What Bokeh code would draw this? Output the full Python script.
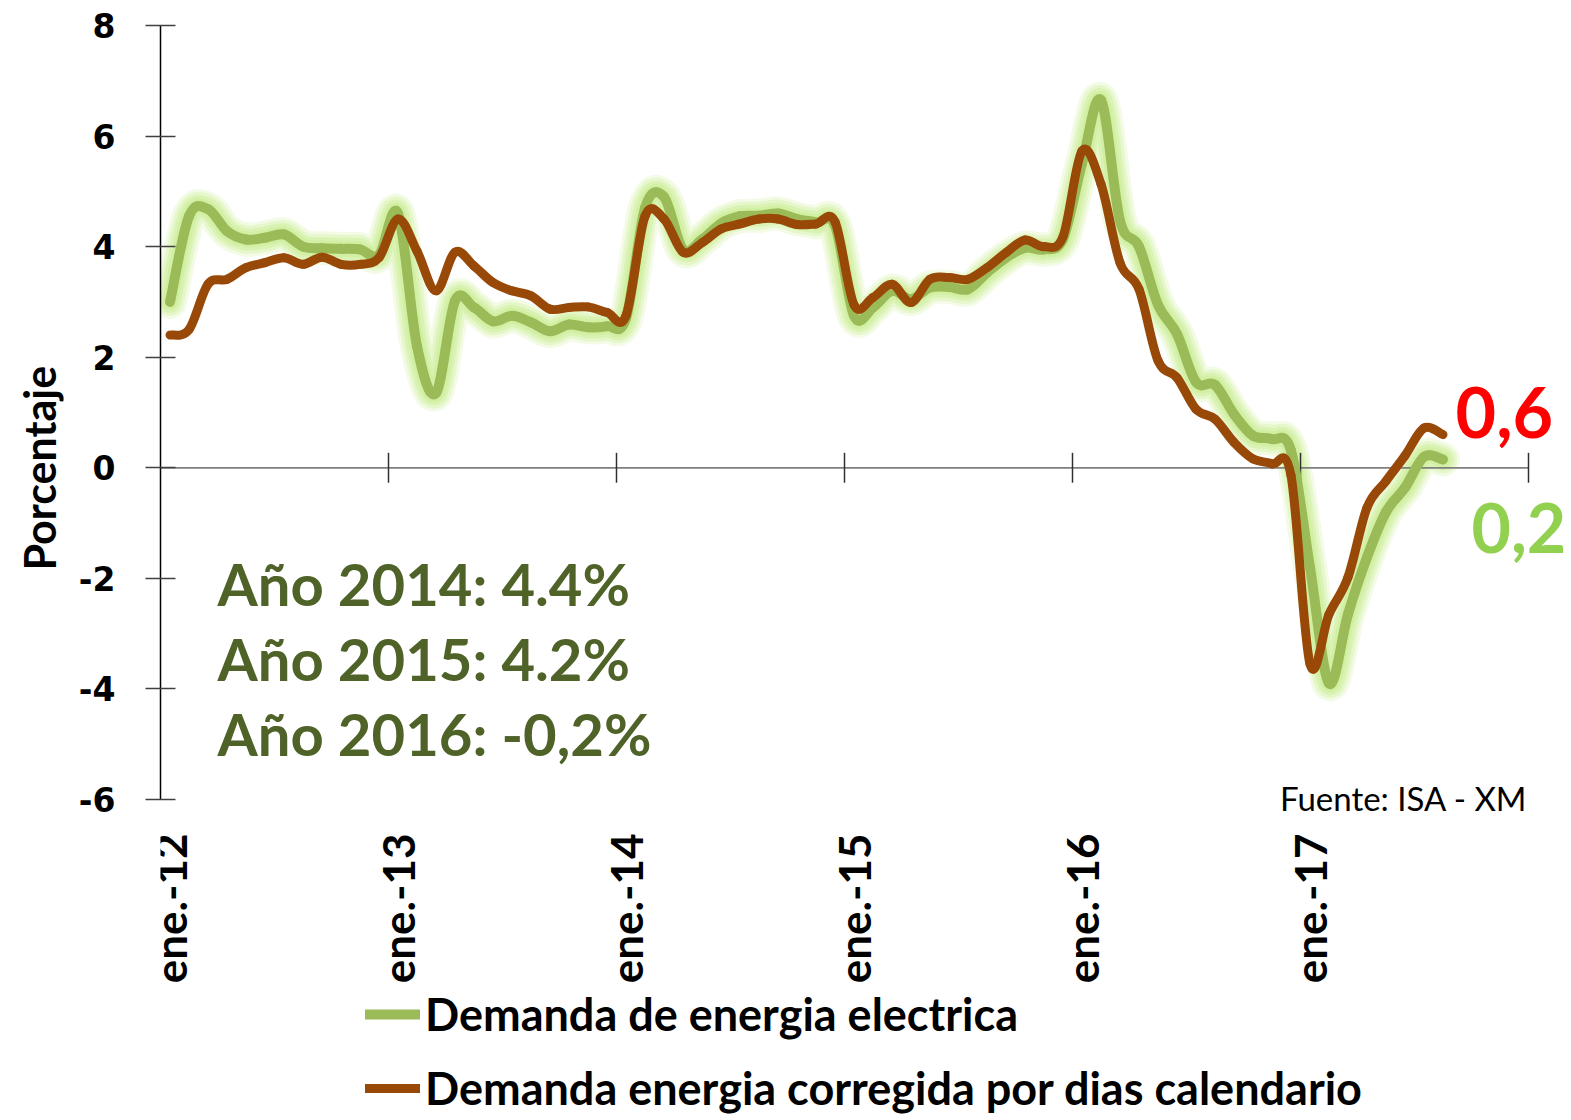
import math
from bokeh.plotting import figure
from bokeh.models import Range1d, FixedTicker, Label, Legend, LegendItem, Title
from bokeh.core.properties import value
from bokeh.embed import file_html
from bokeh.resources import INLINE

# Month index since ene.-2012 (0 = ene.-12 ... 67 = ago.-17)
meses = list(range(68))

demanda = [3.00, 4.55, 4.68, 4.28, 4.13, 4.16, 4.22, 4.00, 3.97, 3.96, 3.95, 3.85,
           4.60, 2.20, 1.35, 3.02, 2.90, 2.65, 2.75, 2.63, 2.47, 2.59, 2.54, 2.56,
           2.70, 4.70, 4.90, 3.95, 4.13, 4.42, 4.55, 4.56, 4.60, 4.50, 4.44, 4.38,
           2.75, 2.90, 3.20, 3.05, 3.26, 3.27, 3.23, 3.53, 3.80, 3.98, 3.95, 4.14,
           5.50, 6.65, 4.47, 4.00, 2.95, 2.42, 1.55, 1.50, 0.97, 0.58, 0.52, 0.31,
           -1.80, -3.90, -2.65, -1.62, -0.80, -0.36, 0.20, 0.15]

corregida = [2.40, 2.50, 3.32, 3.41, 3.62, 3.71, 3.80, 3.68, 3.81, 3.68, 3.68, 3.80,
             4.50, 3.92, 3.20, 3.90, 3.65, 3.35, 3.20, 3.11, 2.87, 2.90, 2.91, 2.81,
             2.75, 4.55, 4.50, 3.90, 4.07, 4.32, 4.41, 4.50, 4.50, 4.40, 4.41, 4.45,
             2.95, 3.08, 3.32, 2.99, 3.41, 3.44, 3.41, 3.62, 3.89, 4.12, 4.00, 4.18,
             5.73, 5.13, 3.71, 3.23, 1.94, 1.63, 1.06, 0.88, 0.46, 0.16, 0.07, -0.14,
             -3.55, -2.65, -1.98, -0.72, -0.24, 0.22, 0.72, 0.60]

anios_ticks = [0, 12, 24, 36, 48, 60, 72]
anios_labels = ["ene.-12", "ene.-13", "ene.-14", "ene.-15", "ene.-16", "ene.-17"]
y_ticks = [-6, -4, -2, 0, 2, 4, 6, 8]

resumen = ["Año 2014: 4.4%", "Año 2015: 4.2%", "Año 2016: -0,2%"]
ultimo_corregida = "0,6"
ultimo_demanda = "0,2"

xs = [m + 0.5 for m in meses]

FONT = "Lato"
GREEN = "#9BBB59"
BROWN = "#984807"

PX_Y = 774 / 14.0          # pixels per percentage point
PX_X = 19.0                # pixels per month
TOP = 25
FRAME_H = 1093
FRAME_W = 1408


def smooth_segments(x, y):
    """Bezier control points (Catmull-Rom style) so the curve passes through every data point."""
    n = len(x)
    seg = dict(x0=[], y0=[], x1=[], y1=[], cx0=[], cy0=[], cx1=[], cy1=[])
    for i in range(n - 1):
        xm, ym = (x[i - 1], y[i - 1]) if i > 0 else (x[i], y[i])
        xp, yp = (x[i + 2], y[i + 2]) if i + 2 < n else (x[i + 1], y[i + 1])
        seg["x0"].append(x[i]); seg["y0"].append(y[i])
        seg["x1"].append(x[i + 1]); seg["y1"].append(y[i + 1])
        seg["cx0"].append(x[i] + (x[i + 1] - xm) / 6.0)
        seg["cy0"].append(y[i] + (y[i + 1] - ym) / 6.0)
        seg["cx1"].append(x[i + 1] - (xp - x[i]) / 6.0)
        seg["cy1"].append(y[i + 1] - (yp - y[i]) / 6.0)
    return seg


p = figure(frame_width=FRAME_W, frame_height=FRAME_H,
           x_range=Range1d(0, FRAME_W / PX_X), y_range=Range1d(8 - FRAME_H / PX_Y, 8),
           x_axis_location=None,
           output_backend="svg", toolbar_location=None,
           min_border_left=160, min_border_right=0,
           min_border_top=TOP, min_border_bottom=0)
p.xgrid.visible = False
p.ygrid.visible = False
p.outline_line_color = None
p.background_fill_color = "white"
p.border_fill_color = "white"

# Y axis
p.yaxis.bounds = (-6, 8)
p.yaxis.ticker = FixedTicker(ticks=y_ticks)
p.yaxis.major_label_overrides = {t: str(t) for t in y_ticks}
p.yaxis.axis_line_color = "black"
p.yaxis.axis_line_width = 1.5
p.yaxis.major_tick_in = 15
p.yaxis.major_tick_out = 15
p.yaxis.major_tick_line_color = "#404040"
p.yaxis.major_tick_line_width = 1.5
p.yaxis.minor_tick_line_color = None
p.yaxis.major_label_standoff = 30
p.yaxis.major_label_text_font = "DejaVu Sans"
p.yaxis.major_label_text_font_style = "bold"
p.yaxis.major_label_text_font_size = "33px"
p.yaxis.major_label_text_color = "black"

# Y axis title (left panel)
p.add_layout(Title(text="Porcentaje", align="left", offset=548, vertical_align="bottom",
                   standoff=22, text_font=FONT, text_font_style="bold",
                   text_font_size="43px", text_color="black"), "left")

# glow for demanda (opaque pre-blended shades)
sd = smooth_segments(xs, demanda)
sc = smooth_segments(xs, corregida)
for w, col in [(34, "#f3fbe6"), (28, "#e6f7cc"), (22, "#daf3b4"), (16, "#d2f0a4")]:
    p.bezier(line_color=col, line_width=w, line_cap="round", **sd)

# zero line with year ticks
p.line(x=[anios_ticks[0], anios_ticks[-1]], y=[0, 0], line_color="#7f7f7f", line_width=1.8)
p.segment(x0=anios_ticks[1:], x1=anios_ticks[1:], y0=[-0.27] * 6, y1=[0.27] * 6,
          line_color="#303030", line_width=1.5)

r_dem = p.bezier(line_color=GREEN, line_width=10, line_cap="round", **sd)
r_cor = p.bezier(line_color=BROWN, line_width=9, line_cap="round", **sc)

# x (date) labels under the plot, vertical
p.text(x=[t + 0.5 for t in anios_ticks[:6]], y=[-6.615] * 6, text=anios_labels,
       angle=math.pi / 2, text_align="right", text_baseline="middle",
       text_font=value(FONT), text_font_style="bold", text_font_size="44px",
       text_color="black")

# Legend
legend = Legend(items=[LegendItem(label="Demanda de energia electrica", renderers=[r_dem]),
                       LegendItem(label="Demanda energia corregida por dias calendario", renderers=[r_cor])],
                location=(205, 3), orientation="vertical",
                glyph_width=55, glyph_height=54, label_height=54, label_standoff=5,
                spacing=20, padding=0, margin=0,
                border_line_color=None, background_fill_alpha=0,
                label_text_font=FONT, label_text_font_style="bold",
                label_text_font_size="45px", label_text_color="black")
p.add_layout(legend)

# Annotations
for i, txt in enumerate(resumen):
    p.add_layout(Label(x=3.0, y=-2.10 - 1.356 * i, text=txt, text_font=FONT,
                       text_font_style="bold", text_font_size="58px",
                       text_color="#4F6228", text_baseline="alphabetic"))

p.add_layout(Label(x=68.16, y=0.999, text=ultimo_corregida, text_font=FONT,
                   text_font_style="bold", text_font_size="70px", text_color="#FF0000",
                   text_baseline="alphabetic"))
p.add_layout(Label(x=69.0, y=-1.085, text=ultimo_demanda, text_font=FONT,
                   text_font_style="bold", text_font_size="68px", text_color="#92D050",
                   text_baseline="alphabetic"))
p.add_layout(Label(x=71.95, y=-5.98, text="Fuente: ISA - XM", text_font=FONT,
                   text_font_size="33px", text_color="black", text_align="right",
                   text_baseline="alphabetic"))

open("out.html", "w").write(file_html(p, INLINE))
